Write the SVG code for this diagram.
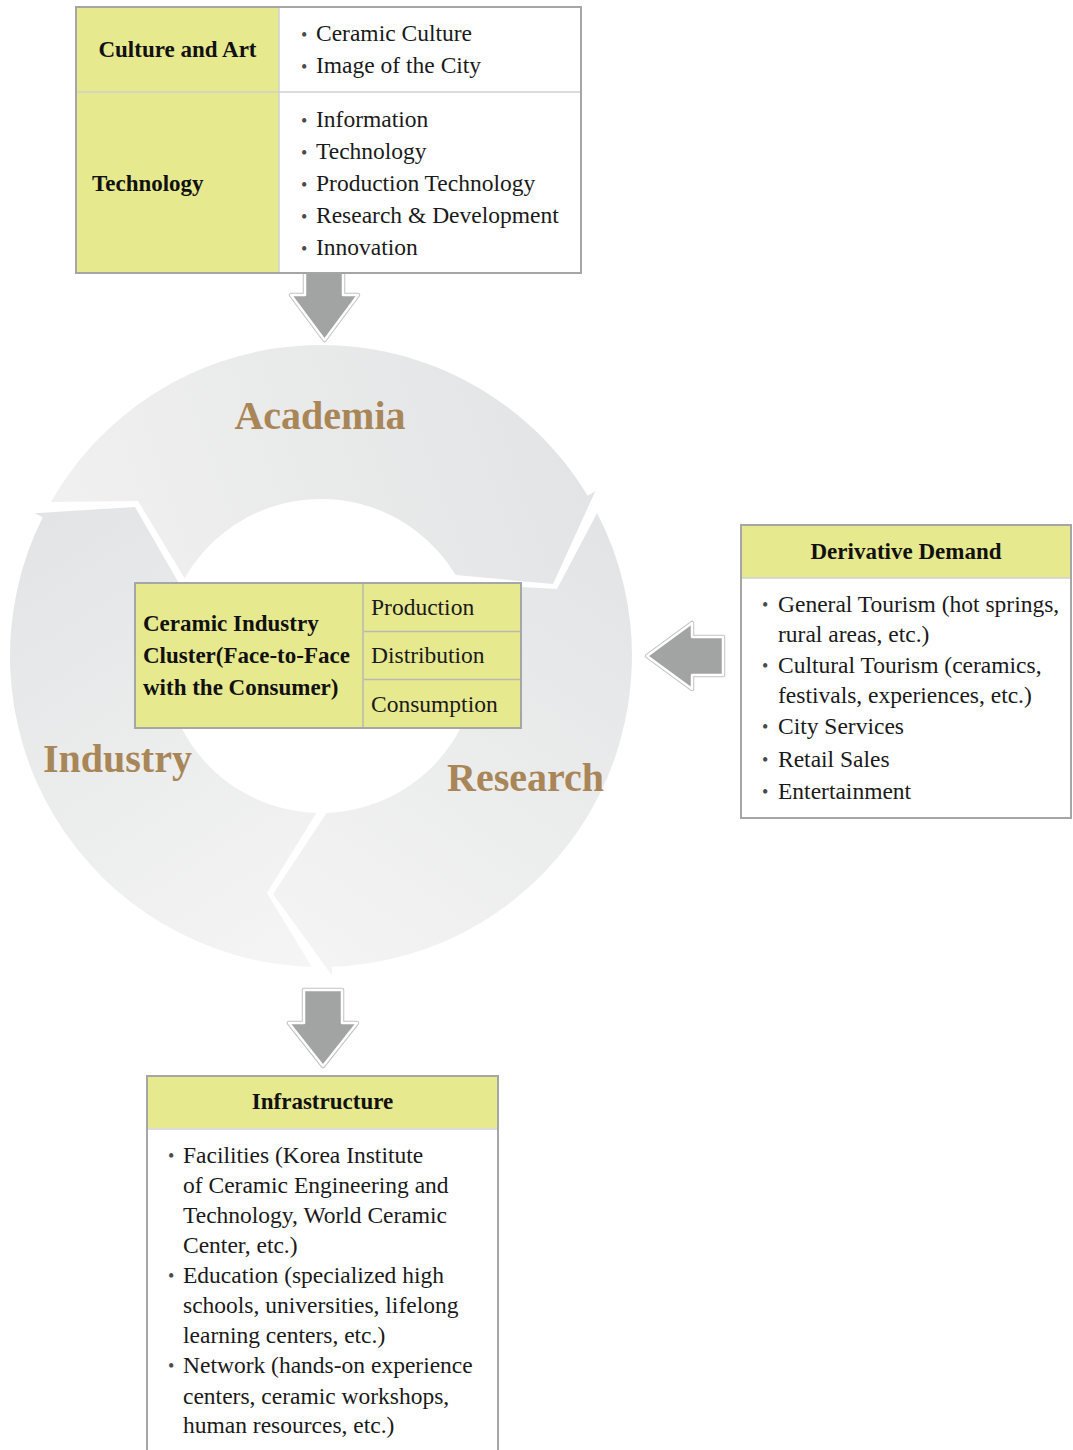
<svg xmlns="http://www.w3.org/2000/svg" width="1073" height="1450" viewBox="0 0 1073 1450">
<defs>
<linearGradient id="gA" gradientUnits="userSpaceOnUse" x1="560" y1="400" x2="90" y2="560"><stop offset="0" stop-color="#e3e4e5"/><stop offset="1" stop-color="#f0f0f0"/></linearGradient>
<linearGradient id="gR" gradientUnits="userSpaceOnUse" x1="610" y1="540" x2="320" y2="970"><stop offset="0" stop-color="#e3e4e5"/><stop offset="1" stop-color="#f4f4f4"/></linearGradient>
<linearGradient id="gI" gradientUnits="userSpaceOnUse" x1="40" y1="520" x2="320" y2="960"><stop offset="0" stop-color="#e3e4e5"/><stop offset="1" stop-color="#f5f5f5"/></linearGradient>
<style>
.t{font-family:"Liberation Serif","Times New Roman",serif;font-size:23.5px;fill:#1a1a1a}
.h{font-family:"Liberation Serif","Times New Roman",serif;font-size:23px;font-weight:bold;fill:#111}
.b{font-family:"Liberation Serif","Times New Roman",serif;font-size:18px;fill:#4a4a4a}
.big{font-family:"Liberation Serif","Times New Roman",serif;font-size:40px;font-weight:bold;fill:#a98658}
.box{fill:#ffffff;stroke:#a6a6a6;stroke-width:2}
.ybox{fill:#e7e98f;stroke:#a6a6a6;stroke-width:2}
.y{fill:#e7e98f}
.div{stroke:#d0d0d0;stroke-width:1.5;fill:none}
.divy{stroke:#b9b9b0;stroke-width:1.5;fill:none}
.ao{fill:none;stroke:#c2c2c2;stroke-width:4.5;stroke-linejoin:round}
.af{fill:#a2a3a3;stroke:#ffffff;stroke-width:2.5;stroke-linejoin:round}
</style>
</defs>
<rect width="1073" height="1450" fill="#ffffff"/>

<g id="connectors">
<g id="arrow-top">
<path class="ao" d="M305 262 H343 V295 H358 L324.5 340 L291 295 H305 Z"/>
<path class="af" d="M305 262 H343 V295 H358 L324.5 340 L291 295 H305 Z"/>
</g>
<g id="arrow-bottom">
<path class="ao" d="M304 990 H342 V1023 H357 L323 1066 L289 1023 H304 Z"/>
<path class="af" d="M304 990 H342 V1023 H357 L323 1066 L289 1023 H304 Z"/>
</g>
<g id="arrow-left">
<path class="ao" d="M723 637 V675 H692 V689 L647 656 L692 623 V637 Z"/>
<path class="af" d="M723 637 V675 H692 V689 L647 656 L692 623 V637 Z"/>
</g>
</g>

<g id="cycle">
<path id="arc-academia" fill="url(#gA)" d="M50.9 501.9 A311 311 0 0 1 587.6 495.8 L595.3 491.2 L553 584 L455.6 575.1 A157 157 0 0 0 184.6 578.2 L138 501 Z"/>
<path id="arc-research" fill="url(#gR)" d="M597.1 512.9 A311 311 0 0 1 331.9 966.8 L332.2 975.8 L273 894 L326.5 812.9 A157 157 0 0 0 460.4 583.7 L557 589 Z"/>
<path id="arc-industry" fill="url(#gI)" d="M311.8 966.9 A311 311 0 0 1 42.7 517.2 L34.6 513.2 L135 507 L180.5 585.9 A157 157 0 0 0 316.3 812.9 L267 893 Z"/>
<text class="big" x="320" y="429" text-anchor="middle">Academia</text>
<text class="big" x="43" y="772">Industry</text>
<text class="big" x="447" y="791">Research</text>
</g>

<g id="cluster">
<rect class="ybox" x="135" y="583" width="386" height="145"/>
<line class="divy" x1="363" y1="584" x2="363" y2="727"/>
<line class="divy" x1="364" y1="631.5" x2="520" y2="631.5"/>
<line class="divy" x1="364" y1="679.5" x2="520" y2="679.5"/>
<text class="h" x="143" y="631">Ceramic Industry</text>
<text class="h" x="143" y="663">Cluster(Face-to-Face</text>
<text class="h" x="143" y="695">with the Consumer)</text>
<text class="t" x="371" y="615">Production</text>
<text class="t" x="371" y="663">Distribution</text>
<text class="t" x="371" y="712">Consumption</text>
</g>

<g id="top-table">
<rect class="box" x="76" y="7" width="505" height="266"/>
<rect class="y" x="77" y="8" width="202" height="264"/>
<line class="div" x1="77" y1="92" x2="580" y2="92"/>
<line class="div" x1="279" y1="8" x2="279" y2="272"/>
<g id="culture-art">
<text class="h" x="177.5" y="57" text-anchor="middle">Culture and Art</text>
<text class="t"><tspan class="b" x="301" y="40.5">•</tspan><tspan x="316" y="41">Ceramic Culture</tspan></text>
<text class="t"><tspan class="b" x="301" y="72.5">•</tspan><tspan x="316" y="73">Image of the City</tspan></text>
</g>
<g id="technology">
<text class="h" x="92" y="191">Technology</text>
<text class="t"><tspan class="b" x="301" y="126.5">•</tspan><tspan x="316" y="127">Information</tspan></text>
<text class="t"><tspan class="b" x="301" y="158.5">•</tspan><tspan x="316" y="159">Technology</tspan></text>
<text class="t"><tspan class="b" x="301" y="190.5">•</tspan><tspan x="316" y="191">Production Technology</tspan></text>
<text class="t"><tspan class="b" x="301" y="222.5">•</tspan><tspan x="316" y="223">Research &amp; Development</tspan></text>
<text class="t"><tspan class="b" x="301" y="254.5">•</tspan><tspan x="316" y="255">Innovation</tspan></text>
</g>
</g>

<g id="derivative-demand">
<rect class="box" x="741" y="525" width="330" height="293"/>
<rect class="y" x="742" y="526" width="328" height="52"/>
<line class="div" x1="742" y1="578" x2="1070" y2="578"/>
<text class="h" x="906" y="559" text-anchor="middle">Derivative Demand</text>
<text class="t"><tspan class="b" x="762" y="611">•</tspan><tspan x="778" y="611.5">General Tourism (hot springs,</tspan></text>
<text class="t" x="778" y="642">rural areas, etc.)</text>
<text class="t"><tspan class="b" x="762" y="672">•</tspan><tspan x="778" y="672.5">Cultural Tourism (ceramics,</tspan></text>
<text class="t" x="778" y="703">festivals, experiences, etc.)</text>
<text class="t"><tspan class="b" x="762" y="733">•</tspan><tspan x="778" y="733.5">City Services</tspan></text>
<text class="t"><tspan class="b" x="762" y="766">•</tspan><tspan x="778" y="766.5">Retail Sales</tspan></text>
<text class="t"><tspan class="b" x="762" y="798">•</tspan><tspan x="778" y="798.5">Entertainment</tspan></text>
</g>

<g id="infrastructure">
<rect class="box" x="147" y="1076" width="351" height="390"/>
<rect class="y" x="148" y="1077" width="349" height="51"/>
<line class="div" x1="148" y1="1129" x2="497" y2="1129"/>
<text class="h" x="322.5" y="1109" text-anchor="middle">Infrastructure</text>
<text class="t"><tspan class="b" x="168" y="1162">•</tspan><tspan x="183" y="1162.5">Facilities (Korea Institute</tspan></text>
<text class="t" x="183" y="1193">of Ceramic Engineering and</text>
<text class="t" x="183" y="1222.5">Technology, World Ceramic</text>
<text class="t" x="183" y="1252.5">Center, etc.)</text>
<text class="t"><tspan class="b" x="168" y="1282">•</tspan><tspan x="183" y="1282.5">Education (specialized high</tspan></text>
<text class="t" x="183" y="1313">schools, universities, lifelong</text>
<text class="t" x="183" y="1342.5">learning centers, etc.)</text>
<text class="t"><tspan class="b" x="168" y="1372">•</tspan><tspan x="183" y="1372.5">Network (hands-on experience</tspan></text>
<text class="t" x="183" y="1404">centers, ceramic workshops,</text>
<text class="t" x="183" y="1433">human resources, etc.)</text>
</g>
</svg>
